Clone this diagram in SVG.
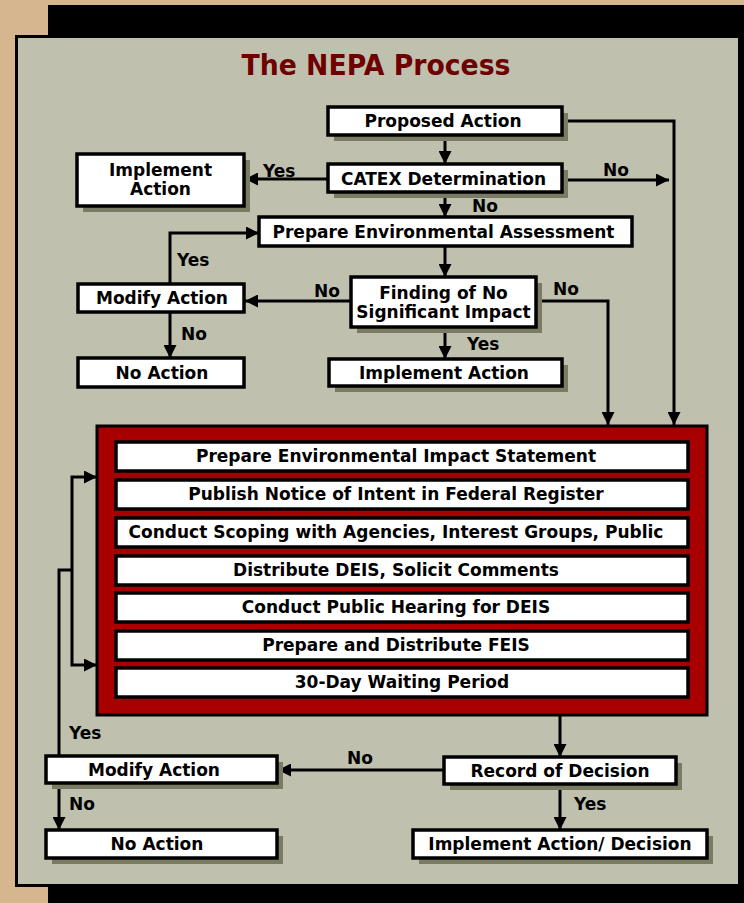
<svg xmlns="http://www.w3.org/2000/svg" width="744" height="903" viewBox="0 0 744 903">
<defs>
<marker id="ah" markerUnits="userSpaceOnUse" markerWidth="13" markerHeight="13" refX="13" refY="6.5" orient="auto">
<path d="M0,0 L13,6.5 L0,13 z" fill="#000"/>
</marker>
<style>
.box{fill:#fff;stroke:#000;stroke-width:3.5}
.sh{fill:#7b7b63}
.t{font-family:"DejaVu Sans","Liberation Sans",sans-serif;font-weight:bold;font-size:17px;fill:#000;text-anchor:middle}
.lb{font-family:"DejaVu Sans","Liberation Sans",sans-serif;font-weight:bold;font-size:17px;fill:#000}
.c{fill:none;stroke:#000;stroke-width:3}
.ca{fill:none;stroke:#000;stroke-width:3;marker-end:url(#ah)}
</style>
</defs>
<rect x="0" y="0" width="744" height="903" fill="#d6b68e"/>
<rect x="48" y="5" width="696" height="898" fill="#000"/>
<rect x="16.5" y="36.5" width="723" height="849" fill="#c0c0ae" stroke="#000" stroke-width="3"/>
<text x="376" y="75" font-family="DejaVu Sans, Liberation Sans, sans-serif" font-weight="bold" font-size="28" fill="#6e0000" text-anchor="middle" textLength="269" lengthAdjust="spacingAndGlyphs">The NEPA Process</text>

<g id="connectors">
<line class="ca" x1="445" y1="135" x2="445" y2="164"/>
<polyline class="ca" points="562,121 674,121 674,425"/>
<line class="ca" x1="328" y1="179" x2="245" y2="179"/>
<line class="ca" x1="562" y1="180" x2="669" y2="180"/>
<line class="ca" x1="445" y1="192" x2="445" y2="217"/>
<line class="ca" x1="445" y1="246" x2="445" y2="277"/>
<line class="ca" x1="351" y1="301" x2="245" y2="301"/>
<polyline class="ca" points="536,301 608,301 608,425"/>
<polyline class="ca" points="170,284 170,233 259,233"/>
<line class="ca" x1="170" y1="312" x2="170" y2="358"/>
<line class="ca" x1="445" y1="327" x2="445" y2="359"/>
<polyline class="c" points="59,756 59,570 72,570"/>
<polyline class="ca" points="72,570 72,477 97,477"/>
<polyline class="ca" points="72,570 72,665 97,665"/>
<line class="ca" x1="560" y1="715" x2="560" y2="757"/>
<line class="ca" x1="444" y1="770" x2="278" y2="770"/>
<line class="ca" x1="560" y1="784" x2="560" y2="830"/>
<line class="ca" x1="59" y1="783" x2="59" y2="830"/>
</g>

<g id="labels">
<text class="lb" x="263" y="177">Yes</text>
<text class="lb" x="603" y="176">No</text>
<text class="lb" x="472" y="212">No</text>
<text class="lb" x="177" y="266">Yes</text>
<text class="lb" x="314" y="297">No</text>
<text class="lb" x="553" y="295">No</text>
<text class="lb" x="181" y="340">No</text>
<text class="lb" x="467" y="350">Yes</text>
<text class="lb" x="69" y="739">Yes</text>
<text class="lb" x="347" y="764">No</text>
<text class="lb" x="69" y="810">No</text>
<text class="lb" x="574" y="810">Yes</text>
</g>

<g id="proposed-action">
<rect class="sh" x="334" y="113" width="234" height="28"/>
<rect class="box" x="328" y="107" width="234" height="28"/>
<text class="t" x="443" y="127">Proposed Action</text>
</g>
<g id="catex">
<rect class="sh" x="334" y="170" width="234" height="28"/>
<rect class="box" x="328" y="164" width="234" height="28"/>
<text class="t" x="443.5" y="185">CATEX Determination</text>
</g>
<g id="implement-action-1">
<rect class="sh" x="83" y="160" width="167" height="52"/>
<rect class="box" x="77" y="154" width="167" height="52"/>
<text class="t" x="160.5" y="176">Implement</text>
<text class="t" x="160.5" y="195">Action</text>
</g>
<g id="prepare-ea">
<rect class="box" x="259" y="217" width="373" height="29"/>
<text class="t" x="443.5" y="238">Prepare Environmental Assessment</text>
</g>
<g id="fonsi">
<rect class="sh" x="357" y="283" width="185" height="50"/>
<rect class="box" x="351" y="277" width="185" height="50"/>
<text class="t" x="443.5" y="299">Finding of No</text>
<text class="t" x="443.5" y="318">Significant Impact</text>
</g>
<g id="modify-action-1">
<rect class="box" x="78" y="284" width="166" height="28"/>
<text class="t" x="162" y="304">Modify Action</text>
</g>
<g id="no-action-1">
<rect class="box" x="78" y="358" width="166" height="29"/>
<text class="t" x="162" y="379">No Action</text>
</g>
<g id="implement-action-2">
<rect class="sh" x="335" y="365" width="233" height="27"/>
<rect class="box" x="329" y="359" width="233" height="27"/>
<text class="t" x="444" y="379">Implement Action</text>
</g>

<g id="eis-process">
<rect x="97" y="426" width="610" height="289" fill="#a80000" stroke="#000" stroke-width="3"/>
<rect class="box" x="116" y="442" width="572" height="29"/>
<text class="t" x="396" y="462">Prepare Environmental Impact Statement</text>
<rect class="box" x="116" y="480" width="572" height="29"/>
<text class="t" x="396" y="500">Publish Notice of Intent in Federal Register</text>
<rect class="box" x="116" y="518" width="572" height="29"/>
<text class="t" x="396" y="538">Conduct Scoping with Agencies, Interest Groups, Public</text>
<rect class="box" x="116" y="556" width="572" height="29"/>
<text class="t" x="396" y="576">Distribute DEIS, Solicit Comments</text>
<rect class="box" x="116" y="593" width="572" height="29"/>
<text class="t" x="396" y="613">Conduct Public Hearing for DEIS</text>
<rect class="box" x="116" y="631" width="572" height="29"/>
<text class="t" x="396" y="651">Prepare and Distribute FEIS</text>
<rect class="box" x="116" y="668" width="572" height="29"/>
<text class="t" x="402" y="688">30-Day Waiting Period</text>
</g>

<g id="record-of-decision">
<rect class="sh" x="450" y="763" width="232" height="27"/>
<rect class="box" x="444" y="757" width="232" height="27"/>
<text class="t" x="560" y="777">Record of Decision</text>
</g>
<g id="modify-action-2">
<rect class="sh" x="52" y="762" width="231" height="27"/>
<rect class="box" x="46" y="756" width="231" height="27"/>
<text class="t" x="154" y="776">Modify Action</text>
</g>
<g id="no-action-2">
<rect class="sh" x="52" y="836" width="231" height="28"/>
<rect class="box" x="46" y="830" width="231" height="28"/>
<text class="t" x="157" y="850">No Action</text>
</g>
<g id="implement-decision">
<rect class="sh" x="419" y="836" width="294" height="28"/>
<rect class="box" x="413" y="830" width="294" height="28"/>
<text class="t" x="560" y="850">Implement Action/ Decision</text>
</g>
</svg>
